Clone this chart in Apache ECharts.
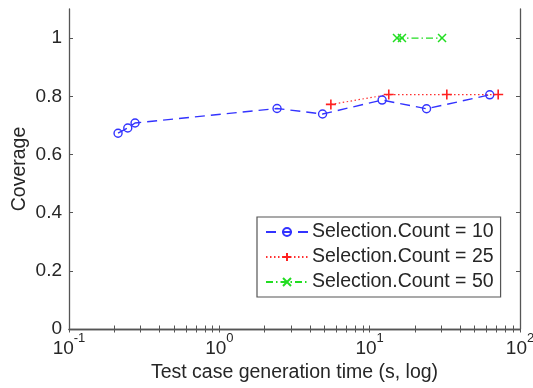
<!DOCTYPE html>
<html>
<head>
<meta charset="utf-8">
<script src="https://cdn.jsdelivr.net/npm/echarts@6/dist/echarts.min.js"></script>
<style>
  html, body { margin: 0; padding: 0; background: #fff; }
  #grafico { width: 533px; height: 388px; }
</style>
</head>
<body>
<div id="grafico"></div>
<script>
// dados
var tempo10 = [0.212, 0.246, 0.275, 2.42, 4.86, 12.1, 23.9, 62.9];
var cobertura10 = [0.673, 0.691, 0.708, 0.758, 0.739, 0.787, 0.757, 0.805];
var tempo25 = [5.52, 13.4, 32.6, 71.6];
var cobertura25 = [0.772, 0.806, 0.806, 0.806];
var tempo50 = [15.2, 16.4, 30.3];
var cobertura50 = [1.0, 1.0, 1.0];
var nomesSeries = ['Selection.Count = 10', 'Selection.Count = 25', 'Selection.Count = 50'];
var xDecadas = [0.1, 1, 10, 100];
var xMenores = [0.2, 0.3, 0.4, 0.5, 0.6, 0.7, 0.8, 0.9, 2, 3, 4, 5, 6, 7, 8, 9, 20, 30, 40, 50, 60, 70, 80, 90];
var yTicks = [0, 0.2, 0.4, 0.6, 0.8, 1];

function junta(xs, ys) {
    var out = [];
    for (var i = 0; i < xs.length; i++) out.push([xs[i], ys[i]]);
    return out;
}

var corTexto = '#262626';
var corEixo = '#555555';
var fonte = '"Liberation Sans", Arial, sans-serif';

var myChart = echarts.init(document.getElementById('grafico'));

var option = {
    animation: false,
    textStyle: { fontFamily: fonte, color: corTexto },
    grid: { left: 69, right: 13, top: 9, bottom: 59, containLabel: false, outerBoundsMode: 'none' },
    legend: {
        orient: 'vertical',
        left: 257,
        top: 217,
        padding: [5, 7, 5, 8],
        itemGap: 5,
        itemWidth: 42,
        itemHeight: 10,
        borderColor: corEixo,
        borderWidth: 1.2,
        borderRadius: 0,
        backgroundColor: '#fff',
        textStyle: { fontSize: 19.5, color: corTexto, fontFamily: fonte, padding: [0, 0, 0, -1] },
        data: nomesSeries
    },
    xAxis: [{
        type: 'log',
        logBase: 10,
        min: 0.1,
        max: 100,
        position: 'bottom',
        name: 'Test case generation time (s, log)',
        nameLocation: 'middle',
        nameGap: 34,
        nameMoveOverlap: false,
        nameTextStyle: { fontSize: 19.5, color: corTexto },
        axisLine: { show: true, lineStyle: { color: corEixo, width: 1.3 } },
        axisTick: { show: true, inside: true, length: 3.5, customValues: xDecadas.concat(xMenores), lineStyle: { color: corEixo } },
        axisLabel: {
            customValues: xDecadas,
            margin: 3,
            formatter: function (v) {
                return '{b|10}{s|' + Math.round(Math.log10(v)) + '}';
            },
            rich: {
                b: { fontSize: 19, color: corTexto, fontFamily: fonte, verticalAlign: 'bottom', padding: [7, 0, 0, 0] },
                s: { fontSize: 13, color: corTexto, fontFamily: fonte, verticalAlign: 'top', padding: [0, 0, 7, 0] }
            }
        },
        splitLine: { show: false },
        minorTick: { show: false }
    }, {
        type: 'log',
        logBase: 10,
        min: 0.1,
        max: 100,
        position: 'top',
        axisLine: { show: true, lineStyle: { color: corEixo, width: 1.3 } },
        axisTick: { show: true, inside: true, length: 3.5, customValues: xDecadas.concat(xMenores), lineStyle: { color: corEixo } },
        axisLabel: { show: false },
        splitLine: { show: false }
    }],
    yAxis: [{
        type: 'value',
        min: 0,
        max: 1.1,
        position: 'left',
        name: 'Coverage',
        nameLocation: 'middle',
        nameGap: 39,
        nameMoveOverlap: false,
        nameTextStyle: { fontSize: 19.5, color: corTexto },
        axisLine: { show: true, lineStyle: { color: corEixo, width: 1.3 } },
        axisTick: { show: true, inside: true, length: 4, customValues: yTicks, lineStyle: { color: corEixo } },
        axisLabel: { customValues: yTicks, fontSize: 19, color: corTexto, margin: 7, formatter: function (v) { return String(v); } },
        splitLine: { show: false }
    }, {
        type: 'value',
        min: 0,
        max: 1.1,
        position: 'right',
        axisLine: { show: true, lineStyle: { color: corEixo, width: 1.3 } },
        axisTick: { show: true, inside: true, length: 4, customValues: yTicks, lineStyle: { color: corEixo } },
        axisLabel: { show: false },
        splitLine: { show: false }
    }],
    series: [{
        name: nomesSeries[0],
        type: 'line',
        data: junta(tempo10, cobertura10),
        symbol: 'circle',
        symbolSize: 8,
        itemStyle: { color: 'rgba(0,0,0,0)', borderColor: '#3333ff', borderWidth: 1.4 },
        lineStyle: { color: '#3333ff', width: 1.4, type: [10, 6] }
    }, {
        name: nomesSeries[1],
        type: 'line',
        data: junta(tempo25, cobertura25),
        symbol: 'path://M5,0L5,10M0,5L10,5',
        symbolSize: 10,
        itemStyle: { color: 'rgba(0,0,0,0)', borderColor: '#ff2020', borderWidth: 1.6 },
        lineStyle: { color: '#ff3030', width: 1.2, type: [1.5, 2.5] }
    }, {
        name: nomesSeries[2],
        type: 'line',
        data: junta(tempo50, cobertura50),
        symbol: 'path://M0,0L10,10M10,0L0,10',
        symbolSize: 8,
        itemStyle: { color: 'rgba(0,0,0,0)', borderColor: '#22dd22', borderWidth: 1.5 },
        lineStyle: { color: '#22dd22', width: 1.3, type: [7, 3, 1.5, 3] }
    }]
};

myChart.setOption(option);
</script>
</body>
</html>
